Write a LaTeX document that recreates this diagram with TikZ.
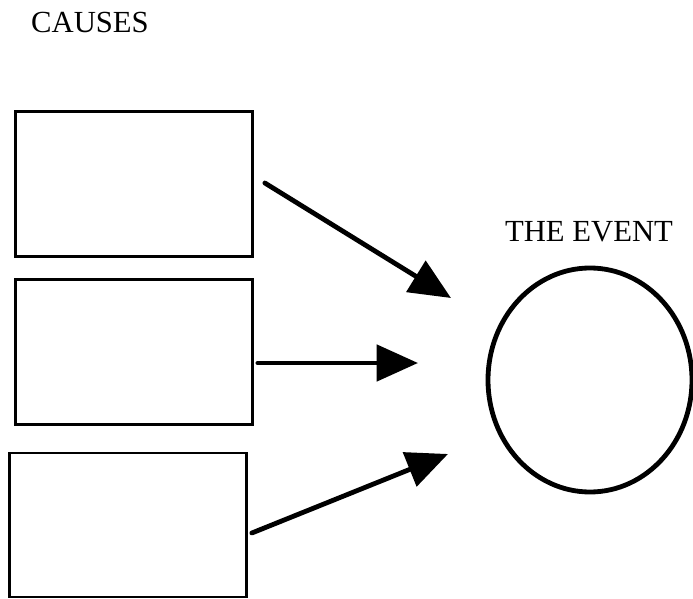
\documentclass[tikz,border=0pt]{standalone}
\usepackage{fontspec}
\setmainfont{Liberation Serif}
\usetikzlibrary{arrows.meta,positioning,shapes.geometric}

\begin{document}
\begin{tikzpicture}[x=0.75pt,y=-0.75pt,>={Triangle[length=31pt,width=27pt]},font=\fontsize{23}{28}\selectfont]
          \useasboundingbox (0,0) rectangle (693,599);
          \tikzset{causebox/.style={draw,line width=1.8pt,minimum width=178pt,minimum height=109pt}}
          \tikzset{bigarrow/.style={->,line width=3.6pt,line cap=round}}
          \node                                   (causes)  at (90,22)   {CAUSES};
          \node[causebox]                         (c1)      at (134,184) {};
          \node[causebox]                         (c2)      at (134,352) {};
          \node[causebox,minimum height=108pt]    (c3)      at (128,525) {};
          \node[draw,ellipse,line width=3.6pt,minimum width=153pt,minimum height=168pt] (ev) at (590,380) {};
          \node                                   (evlabel) at (589,232) {THE EVENT};
          \coordinate (s1) at ([shift={(11,-1)}]c1.east);
          \coordinate (s2) at ([shift={(4,11)}]c2.east);
          \coordinate (s3) at ([shift={(4,8)}]c3.east);
          \coordinate (t1) at (451,298);
          \coordinate (t2) at (418,363);
          \coordinate (t3) at (448,454);
          \draw[bigarrow] (s1) -- (t1);
          \draw[bigarrow] (s2) -- (t2);
          \draw[bigarrow] (s3) -- (t3);
        \end{tikzpicture}
\end{document}
